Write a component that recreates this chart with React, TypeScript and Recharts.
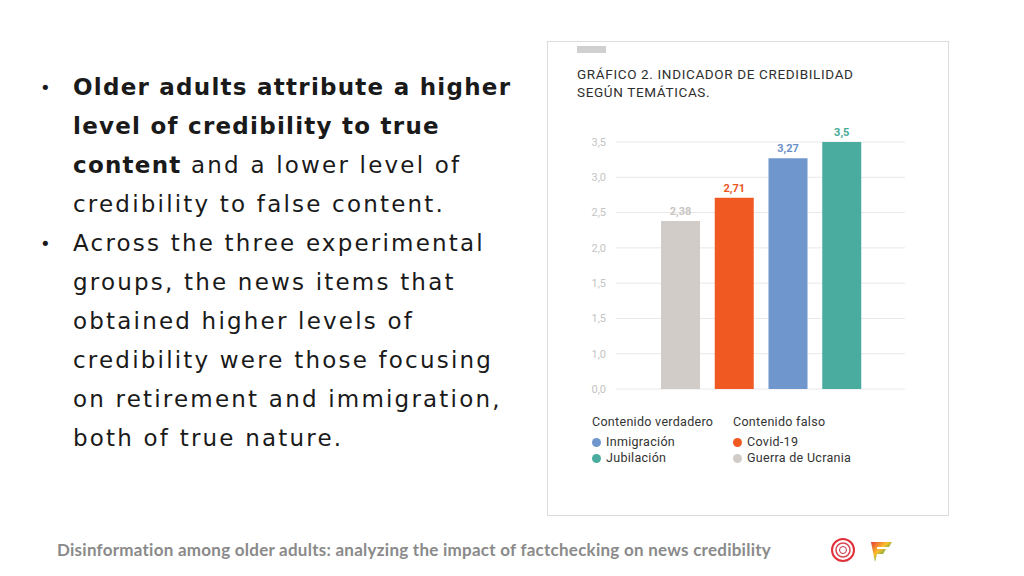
import React from 'react';
import { BarChart, Bar, XAxis, YAxis, CartesianGrid, Cell, LabelList } from 'recharts';

const categories = ['Guerra de Ucrania', 'Covid-19', 'Inmigración', 'Jubilación'];
const credibility = [2.38, 2.71, 3.27, 3.5];
const barColors = ['#d1ccc8', '#f05a22', '#7097cd', '#4aab9f'];
const labelColors = ['#c9c5c1', '#e9561f', '#6b90c8', '#45a898'];
const yTicks = [0, 0.5, 1, 1.5, 2, 2.5, 3, 3.5];
// el gráfico original etiqueta las líneas así (con el 1,5 repetido)
const yTickLabels = ['0,0', '1,0', '1,5', '1,5', '2,0', '2,5', '3,0', '3,5'];

const trueGroup = ['Inmigración', 'Jubilación'];
const falseGroup = ['Covid-19', 'Guerra de Ucrania'];

const data = categories.map((name, i) => ({ name, value: credibility[i] }));
const colorOf = (name: string) => barColors[categories.indexOf(name)];

const bodyFont = "'DejaVu Sans', 'Open Sans', sans-serif";
const footerFont = "Lato, 'Open Sans', sans-serif";
const chartFont = "Roboto, 'Open Sans', sans-serif";

const ValueLabel = (props: any) => {
  const { x, y, width, value, index } = props;
  return (
    <text
      x={x + width / 2}
      y={y - 6}
      textAnchor="middle"
      fill={labelColors[index]}
      fontSize={11}
      fontWeight={700}
      fontFamily={chartFont}
    >
      {String(value).replace('.', ',')}
    </text>
  );
};

const LegendItem = ({ name }: { name: string }) => (
  <div style={{ display: 'flex', alignItems: 'center', height: 16 }}>
    <span
      style={{
        width: 9,
        height: 9,
        borderRadius: '50%',
        background: colorOf(name),
        marginRight: 5,
        display: 'inline-block',
      }}
    />
    <span>{name}</span>
  </div>
);

export default function App() {
  const line = { height: 39, lineHeight: '39px', whiteSpace: 'nowrap' as const };
  const bold = { letterSpacing: 1.25, fontWeight: 700 };
  const bullet = { width: 33, fontSize: 18, paddingLeft: 0 };
  return (
    <div
      style={{
        position: 'fixed',
        left: 0,
        top: 0,
        width: 1024,
        height: 576,
        background: '#fff',
        overflow: 'hidden',
      }}
    >
      {/* texto de la izquierda */}
      <div
        style={{
          position: 'absolute',
          left: 40,
          top: 68,
          fontFamily: bodyFont,
          fontSize: 23,
          letterSpacing: 2.2,
          color: '#1a1a1a',
        }}
      >
        <div style={{ ...line, display: 'flex' }}>
          <span style={bullet}>•</span>
          <span style={bold}>Older adults attribute a higher</span>
        </div>
        <div style={{ ...line, paddingLeft: 33 }}>
          <span style={bold}>level of credibility to true</span>
        </div>
        <div style={{ ...line, paddingLeft: 33 }}>
          <span style={bold}>content</span> and a lower level of
        </div>
        <div style={{ ...line, paddingLeft: 33 }}>credibility to false content.</div>
        <div style={{ ...line, display: 'flex' }}>
          <span style={bullet}>•</span>
          <span>Across the three experimental</span>
        </div>
        <div style={{ ...line, paddingLeft: 33 }}>groups, the news items that</div>
        <div style={{ ...line, paddingLeft: 33 }}>obtained higher levels of</div>
        <div style={{ ...line, paddingLeft: 33 }}>credibility were those focusing</div>
        <div style={{ ...line, paddingLeft: 33 }}>on retirement and immigration,</div>
        <div style={{ ...line, paddingLeft: 33 }}>both of true nature.</div>
      </div>

      {/* tarjeta del gráfico */}
      <div
        style={{
          position: 'absolute',
          left: 547,
          top: 41,
          width: 400,
          height: 473,
          border: '1px solid #dcdcdc',
          fontFamily: chartFont,
        }}
      >
        <div
          style={{ position: 'absolute', left: 29, top: 4, width: 29, height: 7, background: '#d0d0d0' }}
        />
        <div
          style={{
            position: 'absolute',
            left: 29,
            top: 23,
            fontSize: 13.5,
            fontWeight: 400,
            letterSpacing: 0.65,
            lineHeight: '18px',
            color: '#2f2f2f',
            whiteSpace: 'nowrap',
          }}
        >
          GRÁFICO 2. INDICADOR DE CREDIBILIDAD
          <br />
          SEGÚN TEMÁTICAS.
        </div>

        <div style={{ position: 'absolute', left: 22, top: 68 }}>
          <BarChart
            width={350}
            height={290}
            data={data}
            margin={{ top: 32, right: 15, bottom: 11, left: 0 }}
          >
            <CartesianGrid vertical={false} stroke="#e8e8e8" />
            <XAxis dataKey="name" hide padding={{ left: 38, right: 36 }} />
            <YAxis
              width={46}
              domain={[0, 3.5]}
              ticks={yTicks}
              interval={0}
              axisLine={false}
              tickLine={false}
              tickSize={8}
              tick={{ fill: '#c4c4c4', fontSize: 11 }}
              tickFormatter={(v: number) => yTickLabels[yTicks.indexOf(v)]}
            />
            <Bar dataKey="value" barSize={39} isAnimationActive={false}>
              {data.map((d, i) => (
                <Cell key={d.name} fill={barColors[i]} />
              ))}
              <LabelList dataKey="value" content={ValueLabel} />
            </Bar>
          </BarChart>
        </div>

        {/* leyenda */}
        <div
          style={{
            position: 'absolute',
            left: 44,
            top: 372,
            display: 'flex',
            fontSize: 12.5,
            letterSpacing: 0.3,
            color: '#333',
            lineHeight: '16px',
          }}
        >
          <div style={{ width: 141 }}>
            <div style={{ marginBottom: 4 }}>Contenido verdadero</div>
            {trueGroup.map((n) => (
              <LegendItem key={n} name={n} />
            ))}
          </div>
          <div>
            <div style={{ marginBottom: 4 }}>Contenido falso</div>
            {falseGroup.map((n) => (
              <LegendItem key={n} name={n} />
            ))}
          </div>
        </div>
      </div>

      {/* pie de página */}
      <div
        style={{
          position: 'absolute',
          left: 57,
          top: 539,
          fontFamily: footerFont,
          fontWeight: 700,
          fontSize: 17,
          letterSpacing: 0.25,
          color: '#8a8a8a',
          whiteSpace: 'nowrap',
        }}
      >
        Disinformation among older adults: analyzing the impact of factchecking on news credibility
      </div>
      <svg style={{ position: 'absolute', left: 828, top: 536 }} width={70} height={30}>
        <circle cx={15} cy={14} r={11} fill="none" stroke="#e0303a" strokeWidth={2} />
        <circle cx={15} cy={14} r={7} fill="none" stroke="#d64550" strokeWidth={1.5} />
        <circle cx={15} cy={14} r={3.5} fill="none" stroke="#c03040" strokeWidth={1} />
        <defs>
          <linearGradient id="fg" x1="0" y1="0" x2="1" y2="1">
            <stop offset="0" stopColor="#e53935" />
            <stop offset="0.4" stopColor="#fbc02d" />
            <stop offset="0.7" stopColor="#43a047" />
            <stop offset="1" stopColor="#3949ab" />
          </linearGradient>
        </defs>
        <path d="M43 6 L64 6 L61 11 L49 11 L49 13 L58 13 L55 18 L49 18 L47 26 Z" fill="url(#fg)" />
      </svg>
    </div>
  );
}
